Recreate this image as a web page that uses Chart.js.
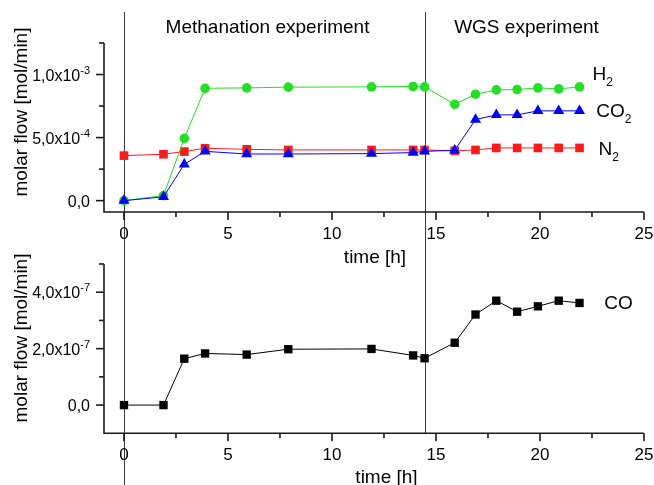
<!DOCTYPE html>
<html>
<head>
<meta charset="utf-8">
<script src="https://cdn.jsdelivr.net/npm/chart.js@4"></script>
<style>
  html, body { margin: 0; padding: 0; background: #fff; }
  #wrap { position: relative; width: 654px; height: 485px; overflow: hidden; }
  .panel { position: absolute; left: 0; width: 654px; }
</style>
</head>
<body>
<div id="wrap">
  <div class="panel" style="top:0;height:275px"><canvas id="gasChart"></canvas></div>
  <div class="panel" style="top:250px;height:235px"><canvas id="coChart"></canvas></div>
</div>
<script>
// Sampling times (h), shared by all gas streams
const timeHours = [0, 1.9, 2.9, 3.9, 5.9, 7.9, 11.9, 13.9, 14.45, 15.9, 16.9, 17.9, 18.9, 19.9, 20.9, 21.9];

// Molar flows (mol/min)
const h2Flow  = [0, 0.4e-4, 4.94e-4, 8.91e-4, 8.94e-4, 9.0e-4, 9.02e-4, 9.05e-4, 9.02e-4, 7.64e-4, 8.44e-4, 8.78e-4, 8.81e-4, 8.94e-4, 8.86e-4, 9.02e-4];
const co2Flow = [0, 0.3e-4, 2.88e-4, 3.91e-4, 3.70e-4, 3.70e-4, 3.73e-4, 3.81e-4, 3.91e-4, 3.99e-4, 6.43e-4, 6.80e-4, 6.80e-4, 7.12e-4, 7.12e-4, 7.12e-4];
const n2Flow  = [3.57e-4, 3.68e-4, 3.89e-4, 4.15e-4, 4.07e-4, 4.02e-4, 4.02e-4, 4.02e-4, 4.02e-4, 3.95e-4, 4.02e-4, 4.18e-4, 4.18e-4, 4.18e-4, 4.18e-4, 4.18e-4];
const coFlow  = [0, 0, 1.645e-7, 1.83e-7, 1.79e-7, 1.98e-7, 1.99e-7, 1.76e-7, 1.66e-7, 2.21e-7, 3.21e-7, 3.70e-7, 3.31e-7, 3.50e-7, 3.70e-7, 3.62e-7];

// Phase boundaries (h): start of methanation, switch to WGS
const phaseBoundaries = [0, 14.45];
const phaseNames = ["Methanation experiment", "WGS experiment"];
const phaseLabelAt = [6.9, 19.35];

// Axis ticks
const timeTicks = [0, 5, 10, 15, 20, 25];
const timeMinorTicks = [2.5, 7.5, 12.5, 17.5, 22.5];
const gasTicks = [0, 5e-4, 1e-3];
const gasTickLabels = ["0,0", "5,0x10^-4", "1,0x10^-3"];
const gasMinorTicks = [2.5e-4, 7.5e-4, 1.25e-3];
const coTicks = [0, 2e-7, 4e-7];
const coTickLabels = ["0,0", "2,0x10^-7", "4,0x10^-7"];
const coMinorTicks = [1e-7, 3e-7, 5e-7];

// Series name tags placed at the right end of each curve: [name, subscript, time, flow]
const gasTags = [["H", "2", 22.53, 1.016e-3], ["CO", "2", 22.7, 7.22e-4], ["N", "2", 22.81, 4.18e-4]];
const coTags = [["CO", "", 23.09, 3.66e-7]];

const FONT = '"Liberation Sans", Arial, Helvetica, sans-serif';
const font = (px) => px + 'px ' + FONT;

function toPoints(xs, ys) { return xs.map((x, i) => ({ x: x, y: ys[i] })); }

function series(label, values, color, style, radius) {
  return {
    label: label,
    data: toPoints(timeHours, values),
    borderColor: color,
    backgroundColor: color,
    borderWidth: 1,
    pointStyle: style,
    pointRadius: radius,
    pointBorderWidth: 0,
    pointBackgroundColor: color,
    pointBorderColor: color,
    tension: 0,
    clip: false
  };
}

// Text with an optional raised (sup) or lowered (sub) tail
function richText(ctx, main, tail, x, y, mainSize, tailSize, shift, align) {
  ctx.font = font(mainSize);
  const w1 = ctx.measureText(main).width;
  ctx.font = font(tailSize);
  const w2 = tail ? ctx.measureText(tail).width : 0;
  let x0 = x;
  if (align === 'right') x0 = x - w1 - w2;
  ctx.textAlign = 'left';
  ctx.textBaseline = 'alphabetic';
  ctx.font = font(mainSize);
  ctx.fillText(main, x0, y);
  if (tail) {
    ctx.font = font(tailSize);
    ctx.fillText(tail, x0 + w1, y + shift);
  }
}

function panelDecor(cfg) {
  return {
    id: 'panelDecor',
    beforeDatasetsDraw(chart) {
      const ctx = chart.ctx, xs = chart.scales.x, area = chart.chartArea;
      ctx.save();
      ctx.strokeStyle = '#3a3a3a';
      ctx.lineWidth = 1;
      phaseBoundaries.forEach((t, i) => {
        const px = Math.round(xs.getPixelForValue(t)) + 0.5;
        const y1 = cfg.sepBottom[i] === 'axis' ? area.bottom : chart.height;
        ctx.beginPath();
        ctx.moveTo(px, cfg.sepTop);
        ctx.lineTo(px, y1);
        ctx.stroke();
      });
      ctx.restore();
    },
    afterDraw(chart) {
      const ctx = chart.ctx, xs = chart.scales.x, ys = chart.scales.y, a = chart.chartArea;
      ctx.save();
      ctx.fillStyle = '#000';
      ctx.strokeStyle = '#1a1a1a';
      ctx.lineWidth = 1.6;
      // axis lines
      ctx.beginPath();
      ctx.moveTo(a.left, a.top);
      ctx.lineTo(a.left, a.bottom);
      ctx.lineTo(a.right, a.bottom);
      ctx.stroke();
      // tick marks, pointing outwards
      const tick = (x0, y0, x1, y1) => { ctx.beginPath(); ctx.moveTo(x0, y0); ctx.lineTo(x1, y1); ctx.stroke(); };
      timeTicks.forEach(t => { const px = xs.getPixelForValue(t); tick(px, a.bottom, px, a.bottom + 8); });
      timeMinorTicks.forEach(t => { const px = xs.getPixelForValue(t); tick(px, a.bottom, px, a.bottom + 5); });
      cfg.yTicks.forEach(v => { const py = ys.getPixelForValue(v); tick(a.left, py, a.left - 8, py); });
      cfg.yMinor.forEach(v => { const py = ys.getPixelForValue(v); tick(a.left, py, a.left - 5, py); });
      // x tick labels
      ctx.font = font(17);
      ctx.textAlign = 'center';
      ctx.textBaseline = 'alphabetic';
      timeTicks.forEach(t => ctx.fillText(String(t), xs.getPixelForValue(t), a.bottom + 27));
      // y tick labels with exponent
      cfg.yTicks.forEach((v, i) => {
        const parts = cfg.yLabels[i].split('^');
        richText(ctx, parts[0], parts[1] || '', a.left - 14, ys.getPixelForValue(v) + 6, 16, 11, -7, 'right');
      });
      // axis titles
      ctx.font = font(19);
      ctx.textAlign = 'center';
      ctx.textBaseline = 'middle';
      ctx.fillText('time [h]', cfg.xTitleX, a.bottom + cfg.xTitleDy);
      ctx.save();
      ctx.translate(22, cfg.yTitleY);
      ctx.rotate(-Math.PI / 2);
      ctx.fillText('molar flow [mol/min]', 0, 0);
      ctx.restore();
      // curve name tags
      cfg.tags.forEach(tag => {
        richText(ctx, tag[0], tag[1], xs.getPixelForValue(tag[2]), ys.getPixelForValue(tag[3]) + 7, 19, 12, 6, 'left');
      });
      // phase headings
      if (cfg.headings) {
        ctx.font = font(19);
        ctx.textAlign = 'center';
        ctx.textBaseline = 'middle';
        phaseNames.forEach((name, i) => ctx.fillText(name, xs.getPixelForValue(phaseLabelAt[i]), 28));
      }
      ctx.restore();
    }
  };
}

function baseOptions(yMin, yMax, padding) {
  return {
    responsive: true,
    maintainAspectRatio: false,
    animation: false,
    events: [],
    layout: { padding: padding },
    plugins: { legend: { display: false }, tooltip: { enabled: false } },
    scales: {
      x: { type: 'linear', min: -0.96, max: 25, display: false },
      y: { type: 'linear', min: yMin, max: yMax, display: false }
    }
  };
}

new Chart(document.getElementById('gasChart'), {
  type: 'line',
  data: {
    datasets: [
      series('CO2', co2Flow, '#0000ff', 'triangle', 6.4),
      series('H2', h2Flow, '#22e022', 'circle', 4.8),
      series('N2', n2Flow, '#ff1a1a', 'rect', 6.1)
    ]
  },
  options: baseOptions(-0.9e-4, 1.25e-3, { left: 104, right: 10, top: 43, bottom: 63 }),
  plugins: [panelDecor({
    sepTop: 12, sepBottom: ['canvas', 'canvas'],
    yTicks: gasTicks, yLabels: gasTickLabels, yMinor: gasMinorTicks,
    xTitleX: 375, xTitleDy: 46, yTitleY: 112,
    tags: gasTags, headings: true
  })]
});

new Chart(document.getElementById('coChart'), {
  type: 'line',
  data: {
    datasets: [series('CO', coFlow, '#000000', 'rect', 5.9)]
  },
  options: baseOptions(-1e-7, 5e-7, { left: 104, right: 10, top: 14, bottom: 51.7 }),
  plugins: [panelDecor({
    sepTop: 12, sepBottom: ['canvas', 'axis'],
    yTicks: coTicks, yLabels: coTickLabels, yMinor: coMinorTicks,
    xTitleX: 386.5, xTitleDy: 44, yTitleY: 88,
    tags: coTags, headings: false
  })]
});
</script>
</body>
</html>
